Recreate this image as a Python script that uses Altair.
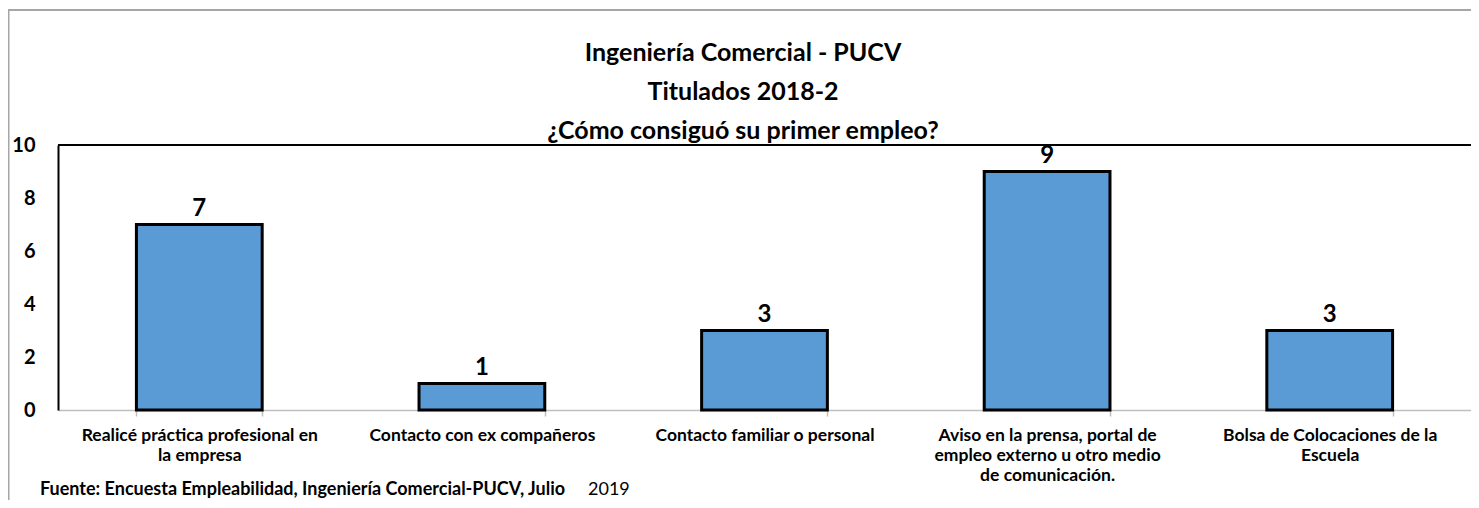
import altair as alt
import pandas as pd

# ---- data ----
categories = [
    "Realicé práctica profesional en|la empresa",
    "Contacto con ex compañeros",
    "Contacto familiar o personal",
    "Aviso en la prensa, portal de|empleo externo u otro medio|de comunicación.",
    "Bolsa de Colocaciones de la|Escuela",
]
values = [7, 1, 3, 9, 3]
y_ticks = [0, 2, 4, 6, 8, 10]
title_lines = ["Ingeniería Comercial - PUCV", "Titulados 2018-2", "¿Cómo consiguó su primer empleo?"]
footer_bold = "Fuente: Encuesta Empleabilidad, Ingeniería Comercial-PUCV, Julio"
footer_regular = "2019"

FONT = "Lato"
df = pd.DataFrame({"cat": categories, "val": values})
one = pd.DataFrame({"k": [0]})

x_enc = alt.X(
    "cat:N",
    sort=categories,
    scale=alt.Scale(paddingInner=0.555, paddingOuter=0.2775),
    axis=alt.Axis(
        title=None, labelAngle=0, labelExpr="split(datum.label, '|')",
        labelFont=FONT, labelFontSize=17.5, labelFontWeight="bold", labelColor="black",
        labelLimit=400, labelLineHeight=20, labelPadding=10,
        tickBand="extent", tickSize=6, tickColor="#bfbfbf", tickWidth=1.5,
        domainColor="#bfbfbf", domainWidth=1.5, grid=False,
    ),
)
y_enc = alt.Y(
    "val:Q",
    scale=alt.Scale(domain=[0, 10], nice=False),
    axis=alt.Axis(
        title=None, values=y_ticks, labelFont=FONT, labelFontSize=20,
        labelFontWeight="bold", labelColor="black", labelPadding=23,
        ticks=False, tickSize=0, domainColor="black", domainWidth=2,
        gridColor="#bfbfbf", gridWidth=1.5,
    ),
)

base = alt.Chart(df)
bars = base.mark_bar(color="#5B9BD5", stroke="black", strokeWidth=3).encode(x=x_enc, y=y_enc)
labels = base.mark_text(
    font=FONT, fontSize=24, fontWeight="bold", color="black", baseline="bottom", dy=-4
).encode(x=alt.X("cat:N", sort=categories), y="val:Q", text="val:Q")

top_rule = alt.Chart(one).mark_rule(color="black", strokeWidth=2).encode(y=alt.datum(10))

frame = alt.Chart(one).mark_rect(fillOpacity=0, stroke="#a6a6a6", strokeWidth=2).encode(
    x=alt.value(-49.5), x2=alt.value(1600), y=alt.value(-135), y2=alt.value(700)
)

title = alt.Chart(one).mark_text(
    text=title_lines, font=FONT, fontSize=25, fontWeight="bold", color="black",
    align="center", baseline="middle", lineHeight=39,
).encode(x=alt.value(685), y=alt.value(-92))

foot1 = alt.Chart(one).mark_text(
    text=footer_bold, font=FONT, fontSize=18, fontWeight="bold", color="black",
    align="left", baseline="middle",
).encode(x=alt.value(-18), y=alt.value(345))
foot2 = alt.Chart(one).mark_text(
    text=footer_regular, font=FONT, fontSize=18, color="black",
    align="left", baseline="middle",
).encode(x=alt.value(530), y=alt.value(345))

chart = alt.layer(frame, top_rule, bars, labels, title, foot1, foot2).properties(
    width=1413, height=265,
    autosize=alt.AutoSizeParams(type="none"),
    padding={"left": 50, "top": 137, "right": 0, "bottom": 90},
).configure_view(stroke=None).configure(background="white")

chart.save("out.html", embed_options={"renderer": "svg", "actions": False})
